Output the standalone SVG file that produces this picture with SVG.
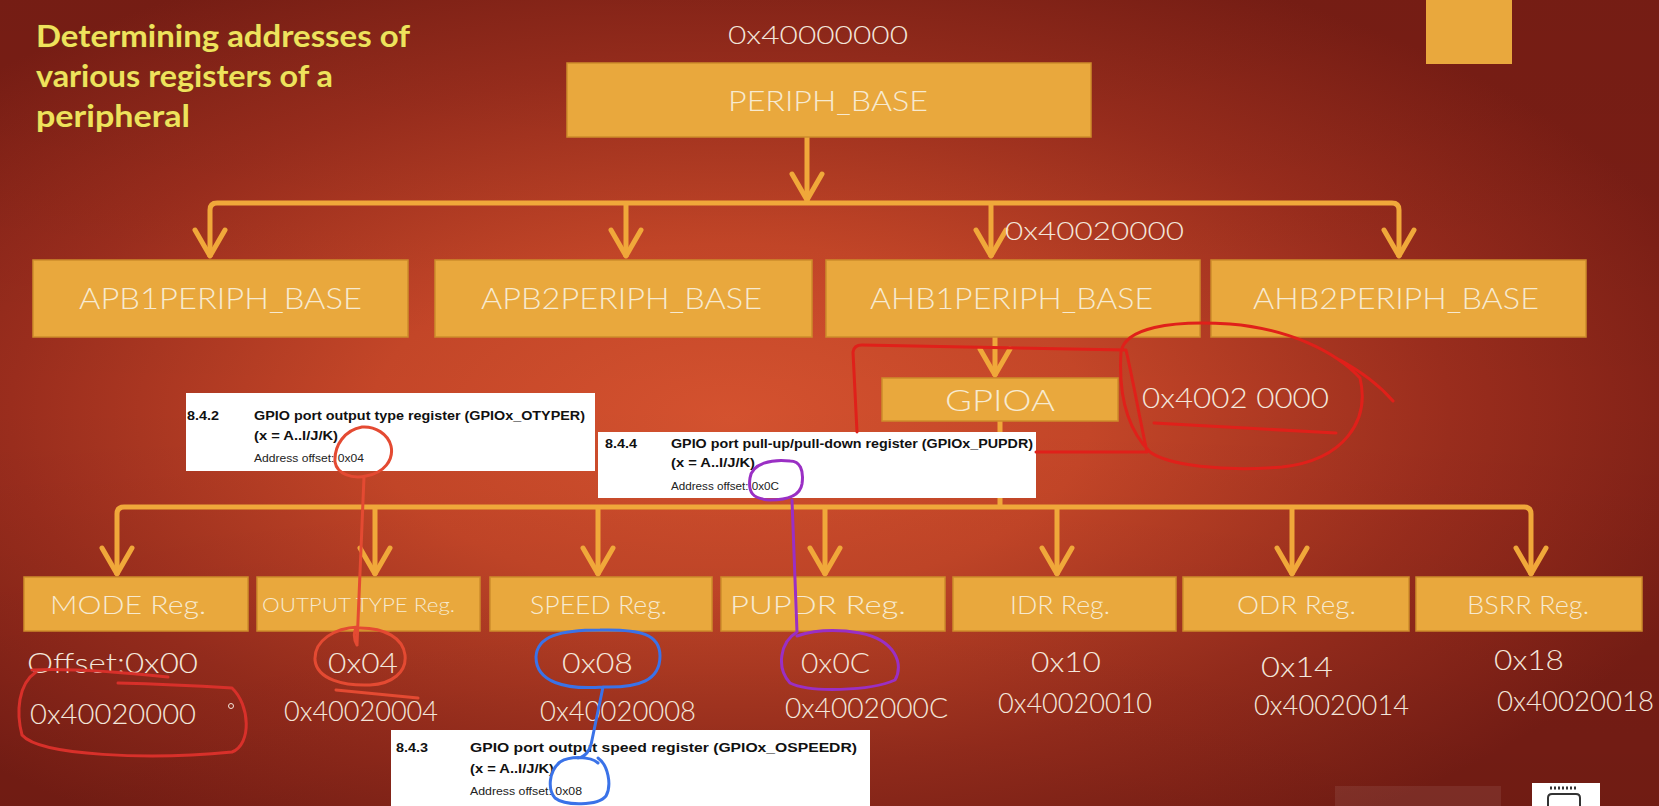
<svg xmlns="http://www.w3.org/2000/svg" width="1659" height="806" viewBox="0 0 1659 806">
<defs>
<radialGradient id="bg" cx="0.44" cy="0.52" r="0.62">
<stop offset="0" stop-color="#d4522f"/>
<stop offset="0.35" stop-color="#c44628"/>
<stop offset="0.7" stop-color="#9a2d1d"/>
<stop offset="1" stop-color="#7a1e15"/>
</radialGradient>
<linearGradient id="shade" x1="0" y1="0" x2="0" y2="1">
<stop offset="0" stop-color="#000" stop-opacity="0.04"/>
<stop offset="0.5" stop-color="#000" stop-opacity="0"/>
<stop offset="1" stop-color="#000" stop-opacity="0.08"/>
</linearGradient>
<marker id="ah" viewBox="-32 -18 36 36" refX="0" refY="0" markerWidth="36" markerHeight="36" markerUnits="userSpaceOnUse" orient="auto-start-reverse">
<path d="M -27,-15 L -1,0 L -27,15" fill="none" stroke="#f0a83a" stroke-width="5" stroke-linejoin="round" stroke-linecap="round"/>
</marker>
</defs>
<style>
.box{fill:#e9a83d;stroke:#cd8c2b;stroke-width:1.5}
.bt{font-family:Lato,"DejaVu Sans",sans-serif;font-weight:300;fill:#f7ead0}
.hx{font-family:Lato,"DejaVu Sans",sans-serif;font-weight:300;fill:#f3e6da}
.title{font-family:Lato,"DejaVu Sans",sans-serif;font-weight:bold;font-size:30px;fill:#efe25c;stroke:#6a3a12;stroke-width:0.8;paint-order:stroke}
.doc{fill:#ffffff}
.dt{font-family:"Liberation Sans",Arial,sans-serif;fill:#111}
.b{font-weight:bold;font-size:13.5px}
.s{font-size:11.5px;fill:#222}
.conn{stroke:#f0a83a;stroke-width:5;fill:none}
.ann{fill:none;stroke-width:3;stroke-linecap:round;stroke-linejoin:round}
</style>
<rect x="0" y="0" width="1659" height="806" fill="url(#bg)"/>
<rect x="0" y="0" width="1659" height="806" fill="url(#shade)"/>

<g id="title">
<text class="title" x="36" y="47" textLength="374" lengthAdjust="spacingAndGlyphs">Determining addresses of</text>
<text class="title" x="36" y="87" textLength="297" lengthAdjust="spacingAndGlyphs">various registers of a</text>
<text class="title" x="36" y="127" textLength="154" lengthAdjust="spacingAndGlyphs">peripheral</text>
</g>

<rect id="corner-square" x="1426" y="0" width="86" height="64" fill="#e9a83d"/>

<g id="connectors">
<path class="conn" d="M 807,137 L 807,201" marker-end="url(#ah)"/>
<path class="conn" d="M 210,257 L 210,210 Q 210,203 217,203 L 1392,203 Q 1399,203 1399,210 L 1399,257" marker-start="url(#ah)" marker-end="url(#ah)"/>
<path class="conn" d="M 626,203 L 626,257" marker-end="url(#ah)"/>
<path class="conn" d="M 991,203 L 991,257" marker-end="url(#ah)"/>
<path class="conn" d="M 995,337 L 995,376" marker-end="url(#ah)"/>
<path class="conn" d="M 1000,421 L 1000,507"/>
<path class="conn" d="M 117,575 L 117,514 Q 117,507 124,507 L 1524,507 Q 1531,507 1531,514 L 1531,575" marker-start="url(#ah)" marker-end="url(#ah)"/>
<path class="conn" d="M 375,507 L 375,575" marker-end="url(#ah)"/>
<path class="conn" d="M 598,507 L 598,575" marker-end="url(#ah)"/>
<path class="conn" d="M 825,507 L 825,575" marker-end="url(#ah)"/>
<path class="conn" d="M 1057,507 L 1057,575" marker-end="url(#ah)"/>
<path class="conn" d="M 1292,507 L 1292,575" marker-end="url(#ah)"/>
</g>

<g id="node-periph-base">
<text class="hx" x="728" y="44" font-size="26" textLength="180" lengthAdjust="spacingAndGlyphs">0x40000000</text>
<rect class="box" x="567" y="63" width="524" height="74"/>
<text class="bt" x="728" y="111" font-size="28" textLength="200" lengthAdjust="spacingAndGlyphs">PERIPH_BASE</text>
</g>

<g id="node-apb1">
<rect class="box" x="33" y="260" width="375" height="77"/>
<text class="bt" x="79" y="309" font-size="29" textLength="283" lengthAdjust="spacingAndGlyphs">APB1PERIPH_BASE</text>
</g>
<g id="node-apb2">
<rect class="box" x="435" y="260" width="377" height="77"/>
<text class="bt" x="481" y="309" font-size="29" textLength="281" lengthAdjust="spacingAndGlyphs">APB2PERIPH_BASE</text>
</g>
<g id="node-ahb1">
<text class="hx" x="1005" y="240" font-size="26" textLength="179" lengthAdjust="spacingAndGlyphs">0x40020000</text>
<rect class="box" x="826" y="260" width="374" height="77"/>
<text class="bt" x="870" y="309" font-size="29" textLength="283" lengthAdjust="spacingAndGlyphs">AHB1PERIPH_BASE</text>
</g>
<g id="node-ahb2">
<rect class="box" x="1211" y="260" width="375" height="77"/>
<text class="bt" x="1253" y="309" font-size="29" textLength="286" lengthAdjust="spacingAndGlyphs">AHB2PERIPH_BASE</text>
</g>

<g id="node-gpioa">
<rect class="box" x="882" y="378" width="236" height="43"/>
<text class="bt" x="945" y="411" font-size="30" textLength="110" lengthAdjust="spacingAndGlyphs">GPIOA</text>
<text class="hx" x="1142" y="408" font-size="28" textLength="187" lengthAdjust="spacingAndGlyphs">0x4002 0000</text>
</g>

<g id="node-mode">
<rect class="box" x="24" y="577" width="224" height="54"/>
<text class="bt" x="50" y="614" font-size="26" textLength="156" lengthAdjust="spacingAndGlyphs">MODE Reg.</text>
<text class="hx" x="27" y="673" font-size="28" textLength="171" lengthAdjust="spacingAndGlyphs">Offset:0x00</text>
<text class="hx" x="30" y="724" font-size="27" textLength="166" lengthAdjust="spacingAndGlyphs">0x40020000</text>
</g>
<g id="node-otype">
<rect class="box" x="257" y="577" width="223" height="54"/>
<text class="bt" x="262" y="612" font-size="20" textLength="193" lengthAdjust="spacingAndGlyphs">OUTPUT TYPE Reg.</text>
<text class="hx" x="328" y="673" font-size="28" textLength="70" lengthAdjust="spacingAndGlyphs">0x04</text>
<text class="hx" x="284" y="721" font-size="27" textLength="154" lengthAdjust="spacingAndGlyphs">0x40020004</text>
</g>
<g id="node-speed">
<rect class="box" x="490" y="577" width="222" height="54"/>
<text class="bt" x="530" y="614" font-size="26" textLength="137" lengthAdjust="spacingAndGlyphs">SPEED Reg.</text>
<text class="hx" x="562" y="673" font-size="28" textLength="71" lengthAdjust="spacingAndGlyphs">0x08</text>
<text class="hx" x="540" y="721" font-size="27" textLength="156" lengthAdjust="spacingAndGlyphs">0x40020008</text>
</g>
<g id="node-pupdr">
<rect class="box" x="721" y="577" width="224" height="54"/>
<text class="bt" x="730" y="614" font-size="26" textLength="176" lengthAdjust="spacingAndGlyphs">PUPDR Reg.</text>
<text class="hx" x="801" y="673" font-size="28" textLength="69" lengthAdjust="spacingAndGlyphs">0x0C</text>
<text class="hx" x="785" y="718" font-size="27" textLength="163" lengthAdjust="spacingAndGlyphs">0x4002000C</text>
</g>
<g id="node-idr">
<rect class="box" x="953" y="577" width="223" height="54"/>
<text class="bt" x="1010" y="614" font-size="26" textLength="100" lengthAdjust="spacingAndGlyphs">IDR Reg.</text>
<text class="hx" x="1031" y="672" font-size="28" textLength="70" lengthAdjust="spacingAndGlyphs">0x10</text>
<text class="hx" x="998" y="713" font-size="27" textLength="154" lengthAdjust="spacingAndGlyphs">0x40020010</text>
</g>
<g id="node-odr">
<rect class="box" x="1183" y="577" width="226" height="54"/>
<text class="bt" x="1237" y="614" font-size="26" textLength="119" lengthAdjust="spacingAndGlyphs">ODR Reg.</text>
<text class="hx" x="1261" y="677" font-size="28" textLength="72" lengthAdjust="spacingAndGlyphs">0x14</text>
<text class="hx" x="1254" y="715" font-size="27" textLength="155" lengthAdjust="spacingAndGlyphs">0x40020014</text>
</g>
<g id="node-bsrr">
<rect class="box" x="1416" y="577" width="226" height="54"/>
<text class="bt" x="1467" y="614" font-size="26" textLength="122" lengthAdjust="spacingAndGlyphs">BSRR Reg.</text>
<text class="hx" x="1494" y="670" font-size="28" textLength="70" lengthAdjust="spacingAndGlyphs">0x18</text>
<text class="hx" x="1497" y="711" font-size="27" textLength="157" lengthAdjust="spacingAndGlyphs">0x40020018</text>
</g>

<g id="doc-otyper">
<rect class="doc" x="186" y="393" width="409" height="78"/>
<text class="dt b" x="187" y="420" textLength="32" lengthAdjust="spacingAndGlyphs">8.4.2</text>
<text class="dt b" x="254" y="420" textLength="331" lengthAdjust="spacingAndGlyphs">GPIO port output type register (GPIOx_OTYPER)</text>
<text class="dt b" x="254" y="440" textLength="84" lengthAdjust="spacingAndGlyphs">(x = A..I/J/K)</text>
<text class="dt s" x="254" y="462" textLength="110" lengthAdjust="spacingAndGlyphs">Address offset: 0x04</text>
</g>
<g id="doc-pupdr">
<rect class="doc" x="598" y="432" width="438" height="66"/>
<text class="dt b" x="605" y="448" textLength="32" lengthAdjust="spacingAndGlyphs">8.4.4</text>
<text class="dt b" x="671" y="448" textLength="362" lengthAdjust="spacingAndGlyphs">GPIO port pull-up/pull-down register (GPIOx_PUPDR)</text>
<text class="dt b" x="671" y="467" textLength="84" lengthAdjust="spacingAndGlyphs">(x = A..I/J/K)</text>
<text class="dt s" x="671" y="490" textLength="108" lengthAdjust="spacingAndGlyphs">Address offset: 0x0C</text>
</g>
<g id="doc-ospeedr">
<rect class="doc" x="391" y="730" width="479" height="76"/>
<text class="dt b" x="396" y="752" textLength="32" lengthAdjust="spacingAndGlyphs">8.4.3</text>
<text class="dt b" x="470" y="752" textLength="387" lengthAdjust="spacingAndGlyphs">GPIO port output speed register (GPIOx_OSPEEDR)</text>
<text class="dt b" x="470" y="773" textLength="84" lengthAdjust="spacingAndGlyphs">(x = A..I/J/K)</text>
<text class="dt s" x="470" y="795" textLength="112" lengthAdjust="spacingAndGlyphs">Address offset: 0x08</text>
</g>

<g id="bottom-right-marks">
<rect x="1335" y="786" width="166" height="20" fill="#ffffff" fill-opacity="0.08"/>
<rect x="1532" y="783" width="68" height="23" fill="#ffffff"/>
<path d="M 1550,788 h 28" stroke="#333" stroke-width="3" stroke-dasharray="2 2" fill="none"/>
<path d="M 1548,806 v -8 q 0,-4 4,-4 h 24 q 4,0 4,4 v 8" stroke="#333" stroke-width="2" fill="none"/>
</g>

<g id="annotations">
<path class="ann" stroke="#e44a32" d="M 362,427 C 345,430 334,445 335,462 C 337,474 352,479 366,476 C 384,473 394,460 391,446 C 388,434 375,426 362,427 M 364,477 L 357,645 M 357,645 C 352,636 355,628 358,627 M 358,627 C 335,628 314,640 315,660 C 317,680 345,686 370,685 C 392,684 407,672 405,655 C 403,638 385,628 360,628 M 336,690 L 418,698"/>
<path class="ann" stroke="#d8302a" d="M 32,670 C 70,668 120,672 168,677 M 118,683 C 160,684 200,686 232,688 M 36,672 C 18,684 16,712 22,735 C 40,756 150,760 232,752 C 252,744 250,705 232,688"/>
<circle cx="231" cy="706" r="2.5" fill="none" stroke="#f3e6da" stroke-width="1"/>
<path class="ann" stroke="#3a72e8" d="M 603,687 C 565,690 536,682 536,657 C 537,636 560,630 600,630 C 640,629 660,634 660,656 C 660,680 640,688 603,687 M 603,687 L 592,740 C 590,752 584,757 578,758 M 598,763 C 590,756 570,756 560,762 C 548,772 548,790 555,798 C 565,806 598,806 606,796 C 612,785 608,765 598,758"/>
<path class="ann" stroke="#9a2fc4" d="M 790,461 C 772,459 752,463 750,478 C 748,492 752,499 770,500 C 786,500 800,496 802,484 C 804,470 800,461 790,461 M 792,500 L 797,632 M 797,632 C 780,642 776,668 790,683 C 810,693 870,691 895,680 C 904,665 896,640 860,633 C 830,628 812,631 797,636"/>
<path class="ann" stroke="#e0201a" d="M 857,432 L 853,352 Q 854,345 862,345 L 1126,350 M 1126,350 C 1133,380 1140,420 1147,452 L 1036,452 M 1121,352 C 1125,328 1170,320 1230,324 C 1290,329 1336,352 1360,378 C 1370,420 1345,460 1282,467 C 1222,472 1168,465 1150,452 C 1130,432 1118,400 1121,352 M 1340,360 C 1362,372 1380,386 1393,401 M 1154,423 L 1336,433"/>
</g>
</svg>
